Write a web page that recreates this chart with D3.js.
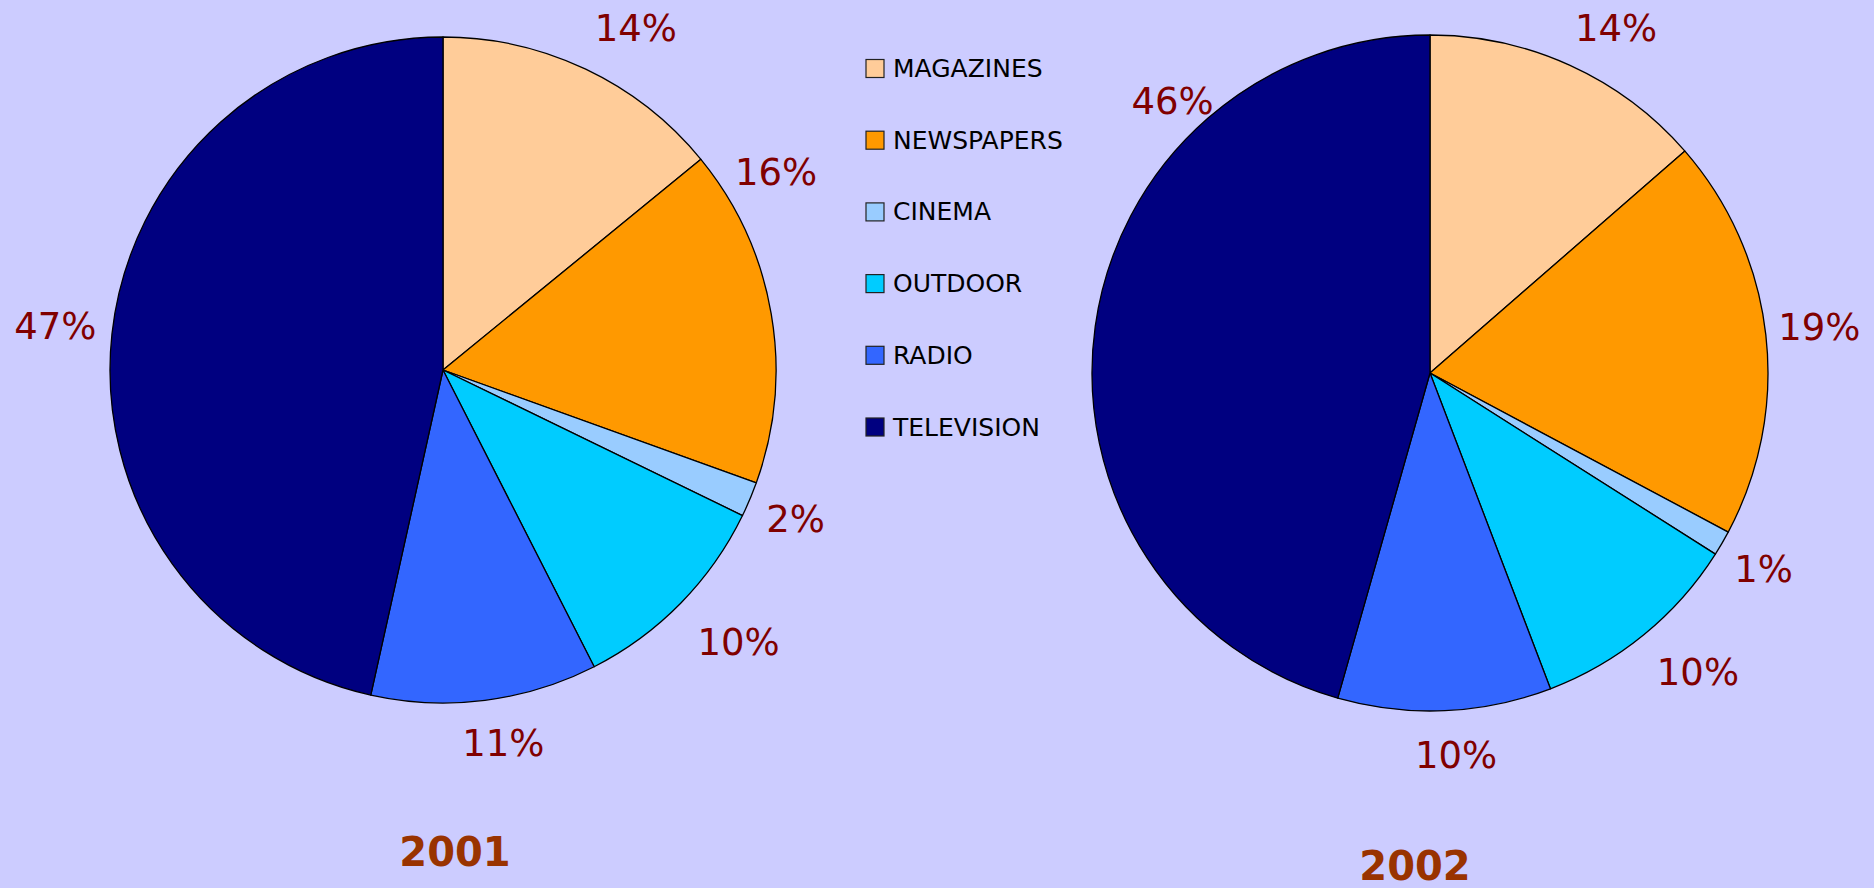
<!DOCTYPE html>
<html>
<head>
<meta charset="utf-8">
<script src="https://cdn.jsdelivr.net/npm/d3@7"></script>
<style>
  html, body { margin: 0; padding: 0; background: #CCCCFF; }
  svg { display: block; }
</style>
</head>
<body>
<svg id="chart" width="1874" height="888"></svg>
<script>
// ---- data ----
const categories = ["MAGAZINES", "NEWSPAPERS", "CINEMA", "OUTDOOR", "RADIO", "TELEVISION"];
const values2001 = [14.1, 16.4, 1.7, 10.3, 10.98, 46.52];
const values2002 = [13.6, 19.2, 1.2, 10.2, 10.2, 45.6];
const years = ["2001", "2002"];

// ---- styling / layout (not data) ----
const colors = ["#FFCC99", "#FF9900", "#99CCFF", "#00CCFF", "#3366FF", "#000080"];
// label placement tweaks (degrees / px beyond the rim) – labels were hand-placed in the original
const angleNudge2001 = [4.1, -20.9, 0.1, -1.8, -1.95, 0.1];
const radiusOff2001  = [59, 54, 50, 69, 45, 57];
const angleNudge2002 = [3.87, -0.22, 0.2, -2.56, -1.38, 38.58];
const radiusOff2002  = [54, 54, 49, 64, 45, 36];

const svg = d3.select("#chart");
svg.append("rect").attr("width", 1874).attr("height", 888).attr("fill", "#CCCCFF");

const pies = [
  { values: values2001, nudge: angleNudge2001, roff: radiusOff2001, cx: 443, cy: 370, r: 333, title: years[0], tx: 455, ty: 852 },
  { values: values2002, nudge: angleNudge2002, roff: radiusOff2002, cx: 1430, cy: 373, r: 338, title: years[1], tx: 1415, ty: 866 }
];

const pieGen = d3.pie().sort(null).value(d => d);
const color = d3.scaleOrdinal().domain(categories).range(colors);
const fmt = v => d3.format(".0f")(v) + "%";

pies.forEach(p => {
  const total = d3.sum(p.values);
  const arcs = pieGen(p.values);
  const arc = d3.arc().innerRadius(0).outerRadius(p.r);
  const g = svg.append("g").attr("transform", `translate(${p.cx},${p.cy})`);
  g.selectAll("path.slice")
    .data(arcs)
    .join("path")
    .attr("class", "slice")
    .attr("d", arc)
    .attr("fill", (d, i) => color(categories[i]))
    .attr("stroke", "#000")
    .attr("stroke-width", 1.3)
    .attr("stroke-linejoin", "round");

  const ang = (d, i) => (d.startAngle + d.endAngle) / 2 + p.nudge[i] * Math.PI / 180;
  const rad = (d, i) => p.r + p.roff[i];
  g.selectAll("text.lbl")
    .data(arcs)
    .join("text")
    .attr("class", "lbl")
    .attr("x", (d, i) => rad(d, i) * Math.sin(ang(d, i)))
    .attr("y", (d, i) => -rad(d, i) * Math.cos(ang(d, i)))
    .attr("text-anchor", "middle")
    .attr("dominant-baseline", "central")
    .attr("font-family", "DejaVu Sans, Verdana, sans-serif")
    .attr("font-size", 37)
    .attr("fill", "#800000")
    .text(d => fmt(d.data / total * 100));

  svg.append("text")
    .attr("x", p.tx)
    .attr("y", p.ty)
    .attr("text-anchor", "middle")
    .attr("dominant-baseline", "central")
    .attr("font-family", "DejaVu Sans, Verdana, sans-serif")
    .attr("font-weight", "bold")
    .attr("font-size", 40)
    .attr("fill", "#993300")
    .text(p.title);
});

// ---- legend ----
const legendY = d3.scalePoint().domain(categories).range([68.5, 427]);
const lg = svg.append("g");
const items = lg.selectAll("g.item").data(categories).join("g")
  .attr("class", "item")
  .attr("transform", d => `translate(866,${legendY(d)})`);
items.append("rect")
  .attr("x", 0).attr("y", -9).attr("width", 18).attr("height", 18)
  .attr("fill", d => color(d))
  .attr("stroke", "#222").attr("stroke-width", 1.2);
items.append("text")
  .attr("x", 27).attr("y", 0)
  .attr("dominant-baseline", "central")
  .attr("font-family", "DejaVu Sans, Verdana, sans-serif")
  .attr("font-size", 25)
  .attr("fill", "#000")
  .text(d => d);
</script>
</body>
</html>
